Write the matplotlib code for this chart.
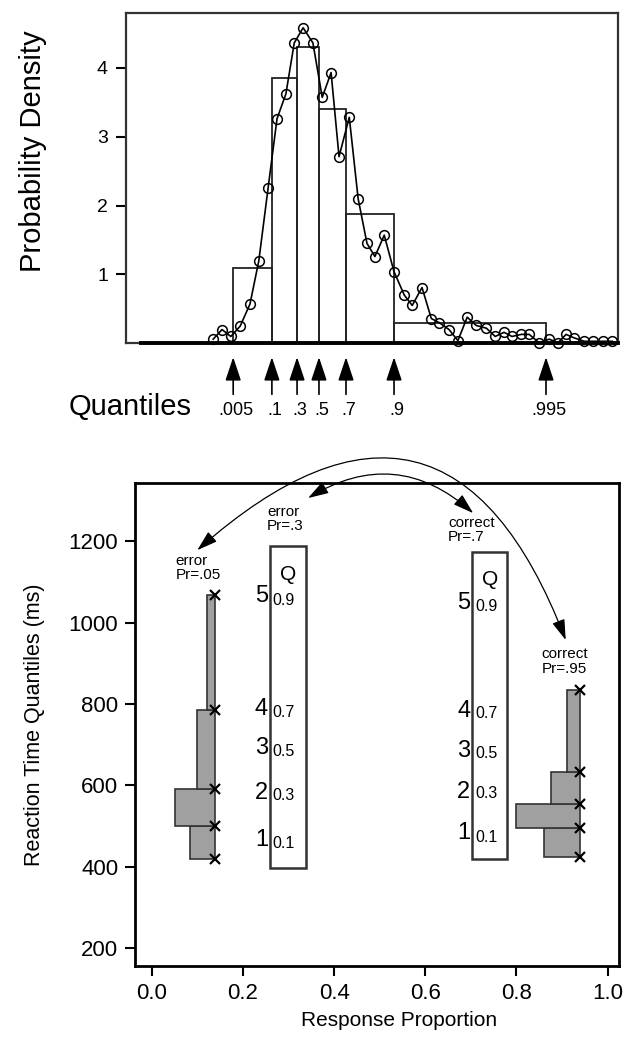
import matplotlib
matplotlib.use('Agg')
import matplotlib.pyplot as plt
from matplotlib.patches import Rectangle

plt.rcParams['font.family'] = ['Liberation Sans', 'DejaVu Sans']

# ---- top panel: RT distribution (s) ----
quant_labels = ['.005', '.1', '.3', '.5', '.7', '.9', '.995']
quant_rt = [0.430, 0.513, 0.567, 0.614, 0.672, 0.775, 1.101]
hist_height = [1.10, 3.85, 4.30, 3.40, 1.87, 0.30]

dens_x = [0.387, 0.406, 0.425, 0.445, 0.466, 0.485, 0.505, 0.524, 0.543, 0.561,
          0.580, 0.601, 0.621, 0.640, 0.657, 0.679, 0.698, 0.717, 0.734, 0.754,
          0.775, 0.797, 0.814, 0.835, 0.855, 0.872, 0.893, 0.912, 0.932, 0.951,
          0.973, 0.992, 1.011, 1.028, 1.048, 1.065, 1.086, 1.108, 1.127, 1.144,
          1.161, 1.183, 1.202, 1.224, 1.243]
dens_y = [0.06, 0.20, 0.10, 0.25, 0.57, 1.20, 2.26, 3.26, 3.62, 4.36,
          4.58, 4.36, 3.57, 3.93, 2.71, 3.28, 2.10, 1.45, 1.26, 1.57,
          1.04, 0.70, 0.55, 0.81, 0.36, 0.30, 0.20, 0.04, 0.38, 0.26,
          0.22, 0.10, 0.16, 0.10, 0.13, 0.13, 0.01, 0.06, 0.01, 0.13,
          0.08, 0.03, 0.03, 0.03, 0.03]

# ---- bottom panel: quantile probability plot ----
rt_ticks = [200, 400, 600, 800, 1000, 1200]
prop_ticks = [0.0, 0.2, 0.4, 0.6, 0.8, 1.0]

err_x = 0.138
err_q = [420, 500, 592, 785, 1068]
err_left = [0.085, 0.051, 0.100, 0.122]
cor_x = 0.94
cor_q = [424, 495, 554, 633, 834]
cor_left = [0.860, 0.800, 0.875, 0.911]

q_names = ['0.1', '0.3', '0.5', '0.7', '0.9']
q_nums = ['1', '2', '3', '4', '5']
boxL = dict(x0=0.259, x1=0.338, y0=397, y1=1188, qy=1119,
            num_y=[465, 581, 691, 787, 1065], lab_y=[458, 576, 684, 780, 1055])
boxR = dict(x0=0.703, x1=0.780, y0=419, y1=1173, qy=1107,
            num_y=[482, 583, 684, 783, 1048], lab_y=[473, 580, 679, 777, 1040])

fig = plt.figure(figsize=(6.33, 10.5), dpi=100)

# ================= top =================
ax1 = fig.add_axes([0.199, 0.673, 0.777, 0.315])
widths = [quant_rt[i + 1] - quant_rt[i] for i in range(len(hist_height))]
ax1.bar(quant_rt[:-1], hist_height, width=widths, align='edge', fill=False,
        edgecolor='#222222', linewidth=1.3, zorder=2)
ax1.plot([0.232, 1.255], [0, 0], color='black', lw=2.8, zorder=3, clip_on=False)
ax1.plot(dens_x, dens_y, '-o', color='black', lw=1.2, ms=7,
         mfc='none', mec='black', mew=1.1, zorder=4, clip_on=False)
ax1.set_xlim(0.2, 1.255)
ax1.set_ylim(0, 4.8)
ax1.set_xticks([])
ax1.set_yticks([1, 2, 3, 4])
ax1.tick_params(axis='y', direction='out', length=7, width=1.5, labelsize=14, pad=6)
for s in ax1.spines.values():
    s.set_linewidth(1.6)
    s.set_color('#333333')
ax1.set_ylabel('Probability Density', fontsize=21)
ax1.yaxis.set_label_coords(-0.16, 0.58)

for q, lab in zip(quant_rt, quant_labels):
    ax1.annotate('', xy=(q, -0.2), xytext=(q, -0.74), annotation_clip=False,
                 arrowprops=dict(arrowstyle='-|>,head_length=0.9,head_width=0.3',
                                 mutation_scale=16, color='black', lw=1.2,
                                 shrinkA=0, shrinkB=0))
    ax1.text(q + 0.006, -0.97, lab, ha='center', va='center', fontsize=13,
             clip_on=False)
ax1.text(0.34, -0.93, 'Quantiles', ha='right', va='center', fontsize=21,
         clip_on=False)

# ================= bottom =================
ax2 = fig.add_axes([0.213, 0.08, 0.765, 0.46])
ax2.set_xlim(-0.037, 1.025)
ax2.set_ylim(156, 1343)

for xr, q, lefts in [(err_x, err_q, err_left), (cor_x, cor_q, cor_left)]:
    ax2.barh(q[:-1], [xr - l for l in lefts],
             height=[q[i + 1] - q[i] for i in range(len(lefts))],
             left=lefts, align='edge', color='#a0a0a0', edgecolor='#333333',
             linewidth=1.2, zorder=2)
    ax2.plot([xr] * len(q), q, 'x', color='black', ms=7, mew=1.6, zorder=3,
             clip_on=False)

for b in (boxL, boxR):
    ax2.add_patch(Rectangle((b['x0'], b['y0']), b['x1'] - b['x0'], b['y1'] - b['y0'],
                            fill=False, edgecolor='#333333', lw=1.8, zorder=2))
    ax2.text((b['x0'] + b['x1']) / 2, b['qy'], 'Q', ha='center', va='center',
             fontsize=15)
    for n, y in zip(q_nums, b['num_y']):
        ax2.text(b['x0'] - 0.004, y, n, ha='right', va='center', fontsize=17)
    for lab, y in zip(q_names, b['lab_y']):
        ax2.text(b['x0'] + 0.006, y, lab, ha='left', va='center', fontsize=11.5)

cond_labels = ['error\nPr=.05', 'error\nPr=.3', 'correct\nPr=.7', 'correct\nPr=.95']
cond_x = [0.053, 0.253, 0.650, 0.855]
cond_y = [1134, 1254, 1227, 905]
for lab, x, y in zip(cond_labels, cond_x, cond_y):
    ax2.text(x, y, lab, ha='left', va='center', fontsize=11, linespacing=1.05)

arrow_kw = dict(arrowstyle='<|-|>,head_length=0.7,head_width=0.22',
                mutation_scale=18, color='black', lw=0.9,
                shrinkA=0, shrinkB=0)
ax2.annotate('', xy=(0.908, 957), xytext=(0.100, 1178), annotation_clip=False,
             arrowprops=dict(connectionstyle='arc3,rad=-0.72', **arrow_kw))
ax2.annotate('', xy=(0.705, 1269), xytext=(0.343, 1306), annotation_clip=False,
             arrowprops=dict(connectionstyle='arc3,rad=-0.37', **arrow_kw))

ax2.set_xticks(prop_ticks)
ax2.set_xticklabels(['0.0', '0.2', '0.4', '0.6', '0.8', '1.0'])
ax2.set_yticks(rt_ticks)
ax2.tick_params(direction='out', length=7, width=1.5, labelsize=16, pad=5)
for s in ax2.spines.values():
    s.set_linewidth(2)
    s.set_color('black')
ax2.set_xlabel('Response Proportion', fontsize=15, labelpad=0)
ax2.xaxis.set_label_coords(0.545, -0.093)
ax2.set_ylabel('Reaction Time Quantiles (ms)', fontsize=15.5)
ax2.yaxis.set_label_coords(-0.185, 0.5)

fig.savefig('out.png', dpi=100)
